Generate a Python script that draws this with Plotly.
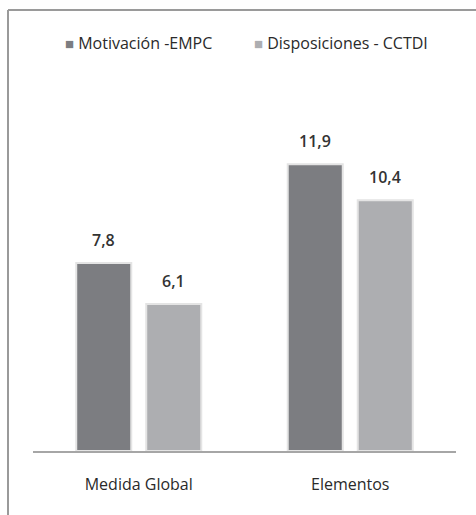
import plotly.graph_objects as go

categories = ["Medida Global", "Elementos"]
series_names = ["Motivación -EMPC", "Disposiciones - CCTDI"]
motivacion = [7.8, 11.9]
disposiciones = [6.1, 10.4]

colors = ["#7c7d81", "#adaeb1"]
values = [motivacion, disposiciones]

FONT = "Open Sans"

fig = go.Figure()
for name, vals, col in zip(series_names, values, colors):
    fig.add_trace(go.Bar(
        x=categories, y=vals, name=name, showlegend=False,
        marker=dict(color=col, line=dict(color="#e4e4e4", width=2)),
    ))

# value labels above each bar
offset = 0.1655
font_lbl = dict(family=FONT, size=16, color="#333333", weight=600)
for i, vals in enumerate(values):
    dx = -offset if i == 0 else offset
    for j, v in enumerate(vals):
        fig.add_annotation(
            x=j + dx, y=v, xref="x", yref="y",
            text=f"{v:.1f}".replace(".", ","),
            showarrow=False, yshift=23, font=font_lbl,
        )

# legend row: small coloured square followed by series name
legend_x = [(63 - 33) / 423, (252 - 33) / 423]
for name, col, lx in zip(series_names, colors, legend_x):
    fig.add_annotation(
        x=lx, y=1.1624, xref="paper", yref="paper",
        xanchor="left", yanchor="middle", showarrow=False,
        text=f'<span style="color:{col};font-size:15px">■</span> {name}',
        font=dict(family=FONT, size=16, color="#2a2a2a"),
    )

# chart frame (top and left edges)
fig.add_shape(type="line", xref="paper", yref="paper",
              x0=-0.0591, x1=1.2, y0=1.2564, y1=1.2564,
              line=dict(color="#9a9a9a", width=2))
fig.add_shape(type="line", xref="paper", yref="paper",
              x0=-0.0591, x1=-0.0591, y0=1.2564, y1=-0.3,
              line=dict(color="#9a9a9a", width=2))

fig.update_layout(
    width=476, height=515,
    margin=dict(l=33, r=20, t=100, b=64),
    paper_bgcolor="white", plot_bgcolor="white",
    barmode="group", bargap=0.338, bargroupgap=0.214,
    xaxis=dict(showline=True, linecolor="#a6a6a6", linewidth=1.5,
               range=[-0.5, 1.5], ticks="outside", ticklen=18,
               tickcolor="rgba(0,0,0,0)", showgrid=False,
               tickfont=dict(family=FONT, size=16, color="#2a2a2a")),
    yaxis=dict(visible=False, range=[0, 14.56]),
)

fig.write_html("out.html")
